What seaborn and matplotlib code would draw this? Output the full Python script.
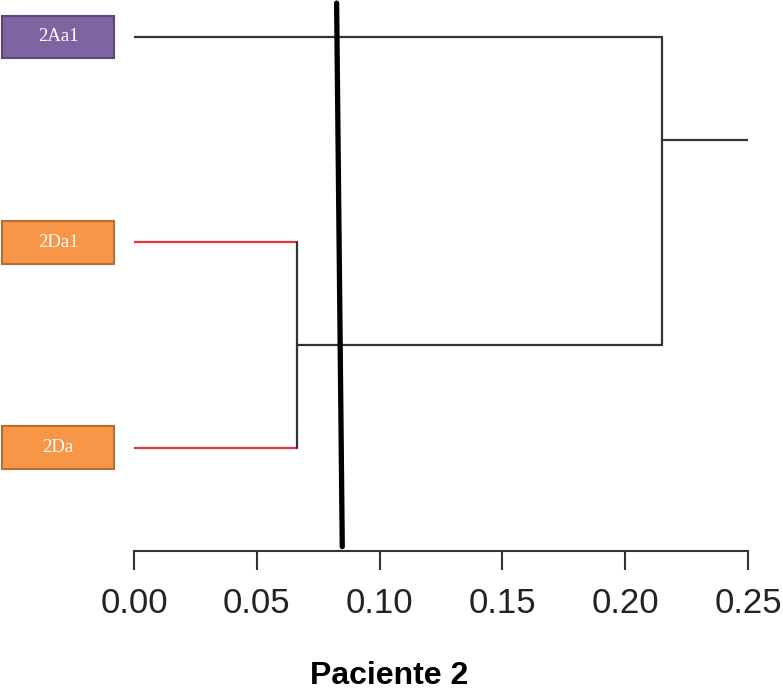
import matplotlib
matplotlib.use("Agg")
import matplotlib.pyplot as plt
from matplotlib.patches import Rectangle
import seaborn as sns
import pandas as pd

# ---- data ----
leaves = ["2Aa1", "2Da1", "2Da"]
leaf_groups = ["A", "D", "D"]
merge_low = 0.0662      # 2Da1 + 2Da
merge_high = 0.2149     # 2Aa1 + (2Da1, 2Da)
root_tip = 0.25
cut_top = 0.0825
cut_bottom = 0.0848
xticks = [0.00, 0.05, 0.10, 0.15, 0.20, 0.25]
xtick_labels = ["0.00", "0.05", "0.10", "0.15", "0.20", "0.25"]
title = "Paciente 2"

sns.set_style("white")
plt.rcParams["font.family"] = ["Liberation Sans", "DejaVu Sans"]

fig = plt.figure(figsize=(7.83, 6.92), dpi=100)
ax = fig.add_axes([134 / 783, 1 - 550.7 / 692, (748 - 134) / 783, 550.7 / 692])

# leaf positions
ypos = {name: i for i, name in enumerate(leaves)}
y_low = (ypos["2Da1"] + ypos["2Da"]) / 2
y_root = (ypos["2Aa1"] + ypos["2Da1"]) / 2

segs = []
def add(seg, xs, ys, kind):
    for x, y in zip(xs, ys):
        segs.append({"seg": seg, "x": x, "y": y, "kind": kind})

add(0, [0, merge_low], [ypos["2Da1"]] * 2, "red")
add(1, [0, merge_low], [ypos["2Da"]] * 2, "red")
add(2, [merge_low, merge_low], [ypos["2Da1"], ypos["2Da"]], "black")
add(3, [merge_low, merge_high], [y_low, y_low], "black")
add(4, [0, merge_high], [ypos["2Aa1"]] * 2, "black")
add(5, [merge_high, merge_high], [ypos["2Aa1"], y_low], "black")
add(6, [merge_high, root_tip], [y_root, y_root], "black")
df = pd.DataFrame(segs)

sns.lineplot(data=df, x="x", y="y", units="seg", hue="kind", estimator=None,
             sort=False, palette={"red": "#E8323C", "black": "#333333"},
             linewidth=1.6, legend=False, ax=ax)

# cut line
cut = pd.DataFrame({"x": [cut_top, cut_bottom], "y": [-0.165, 2.48]})
sns.lineplot(data=cut, x="x", y="y", estimator=None, sort=False,
             color="black", linewidth=3.8, ax=ax)

ax.set_xlim(0, 0.25)
ax.set_ylim(2.5, -0.18)

# leaf label boxes
styles = {"A": ("#8064A2", "#5C4776"), "D": ("#F79646", "#B66D31")}
bx0, bx1 = -0.0537, -0.0081
bh = 0.209
for name, grp in zip(leaves, leaf_groups):
    fc, ec = styles[grp]
    y = ypos[name]
    ax.add_patch(Rectangle((bx0, y - bh / 2), bx1 - bx0, bh, facecolor=fc,
                           edgecolor=ec, linewidth=1.5, clip_on=False, zorder=3))
    ax.text((bx0 + bx1) / 2, y, name, color="white", ha="center", va="center",
            fontsize=13.5, family=["Liberation Serif", "DejaVu Serif"], zorder=4,
            clip_on=False)

# axis styling
for s in ["top", "right", "left"]:
    ax.spines[s].set_visible(False)
ax.spines["bottom"].set_bounds(0, 0.25)
ax.spines["bottom"].set_color("#333333")
ax.spines["bottom"].set_linewidth(1.5)
ax.set_yticks([])
ax.set_xticks(xticks)
ax.set_xticklabels(xtick_labels)
ax.tick_params(axis="x", direction="out", length=14, width=1.5, color="#333333",
               pad=12, labelsize=25, labelcolor="#222222", bottom=True)
ax.set_xlabel("")
ax.set_ylabel("")

fig.text(389 / 783, 1 - 676 / 692, title, ha="center", va="center",
         fontsize=23, fontweight="bold", color="black")

fig.savefig("out.png", dpi=100)
